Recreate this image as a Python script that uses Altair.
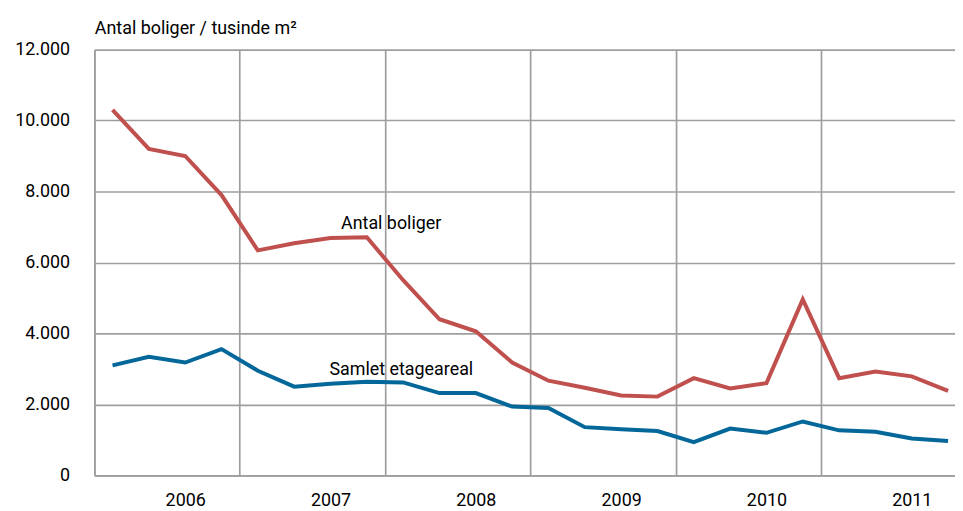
import altair as alt
import pandas as pd

quarters = ["2006K1", "2006K2", "2006K3", "2006K4",
            "2007K1", "2007K2", "2007K3", "2007K4",
            "2008K1", "2008K2", "2008K3", "2008K4",
            "2009K1", "2009K2", "2009K3", "2009K4",
            "2010K1", "2010K2", "2010K3", "2010K4",
            "2011K1", "2011K2", "2011K3", "2011K4"]
antal_boliger = [10300, 9200, 9000, 7900, 6340, 6540, 6690, 6710,
                 5500, 4400, 4060, 3180, 2670, 2470, 2250, 2220,
                 2740, 2450, 2600, 4960, 2740, 2930, 2790, 2380]
samlet_etageareal = [3100, 3340, 3180, 3560, 2950, 2500, 2580, 2640,
                     2620, 2320, 2320, 1940, 1900, 1360, 1300, 1250,
                     940, 1320, 1200, 1520, 1270, 1230, 1040, 970]
series_names = ["Antal boliger", "Samlet etageareal"]
year_grid_values = [-0.5, 3.5, 7.5, 11.5, 15.5, 19.5]
y_ticks = [0, 2000, 4000, 6000, 8000, 10000, 12000]

rows = []
for i, q in enumerate(quarters):
    rows.append({"idx": i, "kvartal": q, "serie": series_names[0], "value": antal_boliger[i]})
    rows.append({"idx": i, "kvartal": q, "serie": series_names[1], "value": samlet_etageareal[i]})
df = pd.DataFrame(rows)

ann = pd.DataFrame({
    "label": series_names,
    "idx": [7.67, 7.95],
    "value": [6944, 2828],
})

FONT = "Roboto"
GRID = "#9e9e9e"
W, H = 867, 429

xscale = alt.Scale(domain=[-0.5, 23.19], nice=False, zero=False)
yscale = alt.Scale(domain=[0, 12000], nice=False)
step = W / (23.19 + 0.5)

xaxis = alt.Axis(
    values=year_grid_values, title=None, grid=True, gridColor=GRID, gridWidth=1.7,
    ticks=False, domainColor=GRID, domainWidth=1.7,
    labelExpr="toString(2006 + (datum.value + 0.5) / 4)",
    labelOffset=2.5 * step, labelFlush=False, labelOverlap=False,
    labelFont=FONT, labelFontSize=18, labelColor="black",
    labelBaseline="top", labelPadding=16,
)
yaxis = alt.Axis(
    values=y_ticks, title="Antal boliger / tusinde m²", grid=True, gridColor=GRID, gridWidth=1.7,
    ticks=False, domainColor=GRID, domainWidth=1.7,
    labelExpr="replace(format(datum.value, ',d'), ',', '.')",
    labelFont=FONT, labelFontSize=18, labelColor="black", labelPadding=25,
    titleAngle=0, titleAlign="left", titleBaseline="alphabetic", titleX=0, titleY=-16,
    titleFont=FONT, titleFontSize=18, titleFontWeight="normal", titleColor="black",
)

lines = alt.Chart(df).mark_line(strokeWidth=4, strokeJoin="miter").encode(
    x=alt.X("idx:Q", scale=xscale, axis=xaxis),
    y=alt.Y("value:Q", scale=yscale, axis=yaxis),
    color=alt.Color("serie:N", scale=alt.Scale(domain=series_names, range=["#c0504d", "#03679a"]), legend=None),
    order="idx:Q",
)

labels = alt.Chart(ann).mark_text(font=FONT, fontSize=18, color="black", align="center", baseline="alphabetic").encode(
    x=alt.X("idx:Q", scale=xscale),
    y=alt.Y("value:Q", scale=yscale),
    text="label:N",
)

chart = alt.layer(lines, labels).properties(
    width=W, height=H, autosize="none",
    padding={"left": 87, "top": 40, "right": 0, "bottom": 34},
    background="white",
).configure_view(stroke=None)

chart.save("out.html", embed_options={"renderer": "svg", "actions": False})
